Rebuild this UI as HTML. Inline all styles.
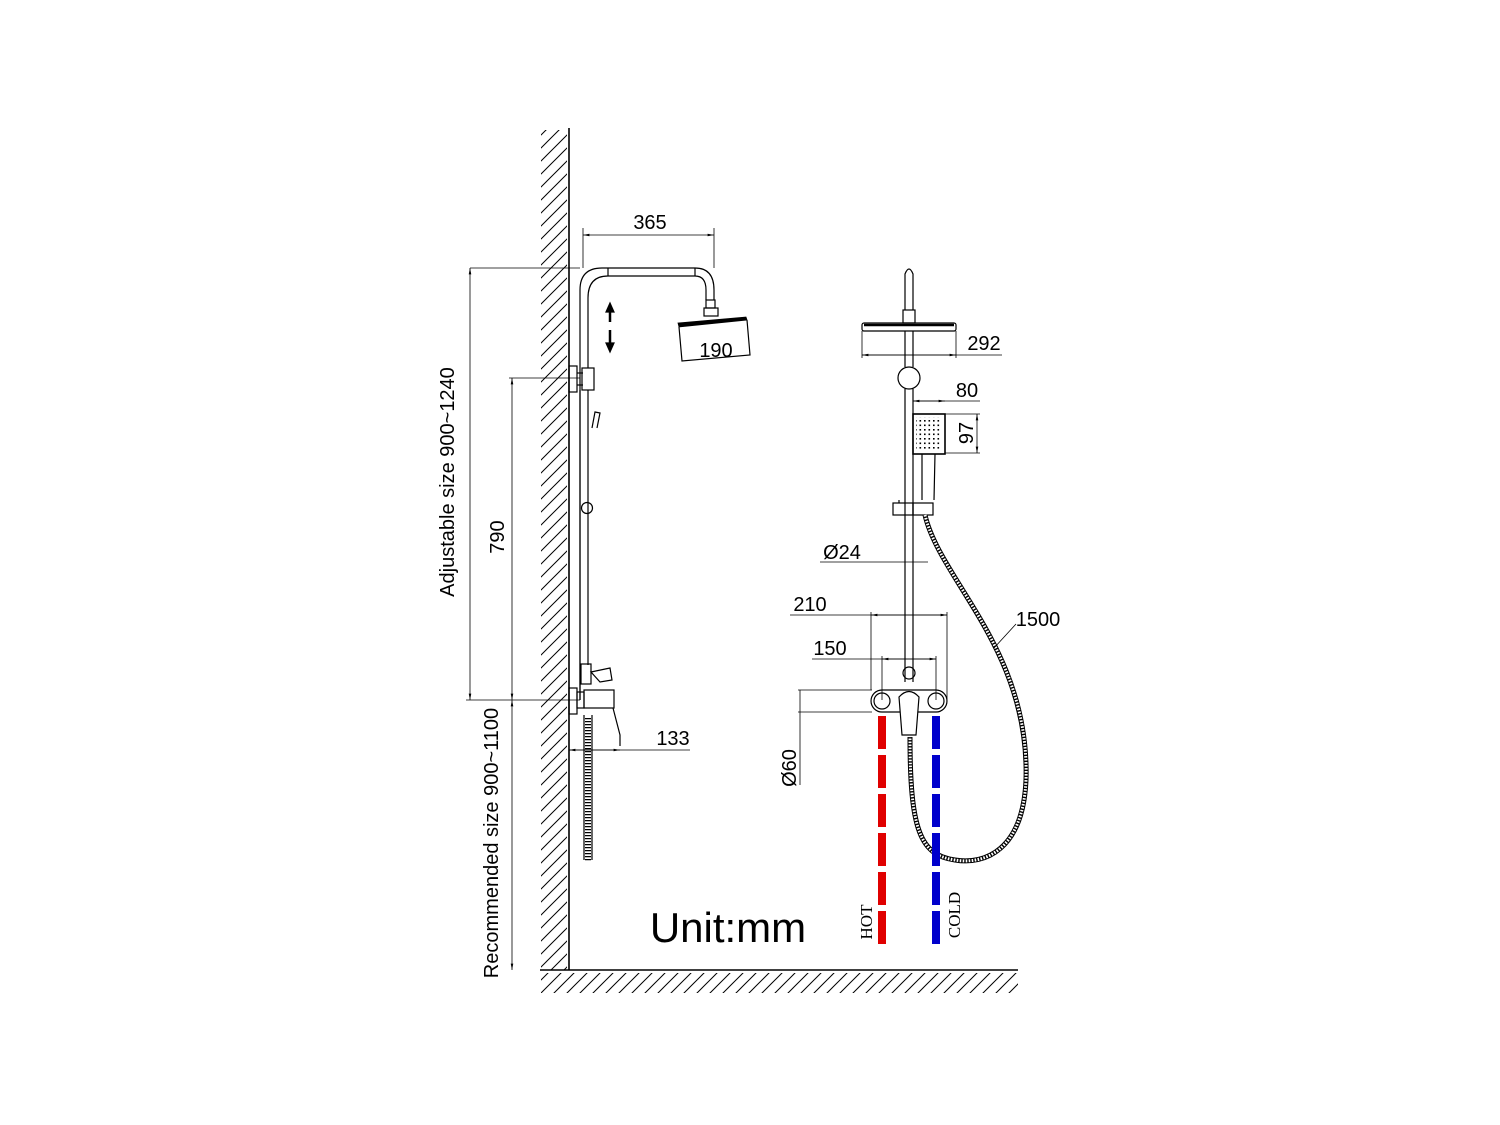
<!DOCTYPE html>
<html><head><meta charset="utf-8"><style>
html,body{margin:0;padding:0;background:#fff}
svg{display:block}
text{font-family:"Liberation Sans",sans-serif;fill:#000}
</style></head><body>
<svg width="1500" height="1125" viewBox="0 0 1500 1125" xmlns="http://www.w3.org/2000/svg">
<defs>
<pattern id="h" width="13" height="13" patternUnits="userSpaceOnUse">
<line x1="0" y1="13" x2="13" y2="0" stroke="#000" stroke-width="1"/>
<line x1="-3" y1="3" x2="3" y2="-3" stroke="#000" stroke-width="1"/>
<line x1="10" y1="16" x2="16" y2="10" stroke="#000" stroke-width="1"/>
</pattern>
<pattern id="dots" width="4.5" height="4.5" patternUnits="userSpaceOnUse"><rect x="1.5" y="1.5" width="1.6" height="1.6" fill="#000"/></pattern>
<clipPath id="cw"><rect x="541" y="130" width="26" height="840"/></clipPath>
<clipPath id="cf"><rect x="541" y="973" width="477" height="20"/></clipPath>
<marker id="ar" viewBox="0 0 10 10" refX="10" refY="5" markerWidth="8" markerHeight="8" orient="auto-start-reverse"><path d="M0,3 L10,5 L0,7" fill="#000"/></marker>
</defs>
<g stroke="#000" fill="none" stroke-width="1.2">
<rect x="541" y="130" width="28" height="840" fill="url(#h)" stroke="none" clip-path="url(#cw)"/>
<rect x="541" y="973" width="477" height="22" fill="url(#h)" stroke="none" clip-path="url(#cf)"/>
<line x1="569" y1="128" x2="569" y2="970" stroke-width="1.6"/>
<line x1="540" y1="970" x2="1018" y2="970" stroke-width="1.6"/>

<path d="M580,700 L580,290 Q580,268 602,268 L695,268 Q714,268 714,290 L714,300"/>
<path d="M588,368 L588,298 Q588,276 608,276 L695,276 Q706,276 706,290 L706,300"/>
<line x1="608" y1="268" x2="608" y2="276"/><line x1="695" y1="268" x2="695" y2="276"/>
<rect x="706" y="300" width="9" height="8"/>
<rect x="704" y="308" width="14" height="8"/>
<path d="M678,323 L746,317 L747,320 L679,327 Z" fill="#000" stroke-width="0.8"/>
<path d="M679,327 L682,361 L750,355 L747,320"/>
<rect x="569" y="366" width="8" height="26"/>
<line x1="577" y1="373" x2="583" y2="373"/><line x1="577" y1="385" x2="583" y2="385"/>
<rect x="582" y="368" width="12" height="22"/>
<line x1="580" y1="390" x2="580" y2="700"/><line x1="588" y1="390" x2="588" y2="665"/>
<path d="M592,428 L595,412 L600,413 L597,428"/>
<circle cx="587" cy="508" r="5.5"/>
<rect x="581" y="664" width="10" height="20"/>
<path d="M591,672 L610,668 L612,680 L600,682 Z"/>
<rect x="569" y="688" width="8" height="26"/>
<rect x="577" y="692" width="7" height="16"/>
<rect x="584" y="690" width="30" height="18"/>
<path d="M613,708 L620,735 L620,746"/>
<path d="M584,715 L584,860 M592,715 L592,860" />
<line x1="588" y1="718" x2="588" y2="862" stroke-width="6" stroke-dasharray="1.2 1.8"/>
<g stroke-width="2.5"><line x1="610" y1="312" x2="610" y2="322"/><line x1="610" y1="330" x2="610" y2="344"/></g>
<path d="M606,312 L610,303 L614,312 Z M606,343 L610,352 L614,343 Z" fill="#000"/>

<line x1="583" y1="228" x2="583" y2="268" stroke-width="0.8"/><line x1="714" y1="228" x2="714" y2="268" stroke-width="0.8"/>
<line x1="583" y1="235" x2="714" y2="235" stroke-width="0.8" marker-start="url(#ar)" marker-end="url(#ar)"/>
<line x1="470" y1="268" x2="580" y2="268" stroke-width="0.8"/>
<line x1="470" y1="268" x2="470" y2="700" stroke-width="0.8" marker-start="url(#ar)" marker-end="url(#ar)"/>
<line x1="466" y1="700" x2="580" y2="700" stroke-width="0.8"/>
<line x1="509" y1="378" x2="580" y2="378" stroke-width="0.8"/>
<line x1="512" y1="378" x2="512" y2="700" stroke-width="0.8" marker-start="url(#ar)" marker-end="url(#ar)"/>
<line x1="512" y1="700" x2="512" y2="970" stroke-width="0.8" marker-start="url(#ar)" marker-end="url(#ar)"/>
<line x1="569" y1="750" x2="690" y2="750" stroke-width="0.8"/>
<line x1="569" y1="750" x2="620" y2="750" stroke-width="0.8" marker-start="url(#ar)" marker-end="url(#ar)"/>

<path d="M905,310 L905,274 Q909,264 913,274 L913,310"/>
<rect x="903" y="310" width="12" height="13"/>
<rect x="862" y="323" width="94" height="8" rx="2"/>
<line x1="864" y1="325" x2="954" y2="325" stroke-width="2.5"/>
<line x1="905" y1="331" x2="905" y2="367"/><line x1="913" y1="331" x2="913" y2="367"/>
<circle cx="909" cy="378" r="11"/>
<line x1="905" y1="389" x2="905" y2="682"/><line x1="913" y1="389" x2="913" y2="682"/>
<rect x="913" y="414" width="32" height="40" stroke-width="1.6"/>
<rect x="916" y="417" width="26" height="34" fill="url(#dots)" stroke="none"/>
<path d="M922,454 L922,500 M935,454 L934,500"/>
<rect x="893" y="503" width="20" height="12"/><rect x="913" y="503" width="20" height="12"/>
<line x1="899" y1="500" x2="899" y2="503"/>
<path d="M925,515 C940,580 1030,650 1026,780 C1023,850 985,865 955,860 C920,855 910,830 910,737" stroke-width="5"/>
<path d="M925,515 C940,580 1030,650 1026,780 C1023,850 985,865 955,860 C920,855 910,830 910,737" stroke-width="3" stroke="#fff" stroke-dasharray="1.6 1.4"/>
<circle cx="909" cy="673" r="6"/>
<path d="M882,690 L936,690 A11,11 0 0 1 936,712 L882,712 A11,11 0 0 1 882,690 Z"/>
<circle cx="882" cy="701" r="8"/><circle cx="936" cy="701" r="8"/>
<path d="M899,697 Q909,686 919,697 L916,735 L902,735 Z" fill="#fff"/>
<line x1="882" y1="716" x2="882" y2="945" stroke="#e00000" stroke-width="8" stroke-dasharray="33 6"/>
<line x1="936" y1="716" x2="936" y2="945" stroke="#0000cc" stroke-width="8" stroke-dasharray="33 6"/>

<line x1="862" y1="331" x2="862" y2="358" stroke-width="0.8"/><line x1="956" y1="331" x2="956" y2="358" stroke-width="0.8"/>
<line x1="862" y1="355" x2="1002" y2="355" stroke-width="0.8"/>
<line x1="862" y1="355" x2="956" y2="355" stroke-width="0.8" marker-start="url(#ar)" marker-end="url(#ar)"/>
<line x1="913" y1="398" x2="913" y2="414" stroke-width="0.8"/>
<line x1="913" y1="401" x2="980" y2="401" stroke-width="0.8"/>
<line x1="913" y1="401" x2="945" y2="401" stroke-width="0.8" marker-start="url(#ar)" marker-end="url(#ar)"/>
<line x1="945" y1="414" x2="980" y2="414" stroke-width="0.8"/><line x1="945" y1="453" x2="980" y2="453" stroke-width="0.8"/>
<line x1="977" y1="414" x2="977" y2="453" stroke-width="0.8" marker-start="url(#ar)" marker-end="url(#ar)"/>
<line x1="820" y1="562" x2="928" y2="562" stroke-width="0.8"/>
<line x1="871" y1="612" x2="871" y2="690" stroke-width="0.8"/><line x1="947" y1="612" x2="947" y2="700" stroke-width="0.8"/>
<line x1="790" y1="615" x2="947" y2="615" stroke-width="0.8"/>
<line x1="871" y1="615" x2="947" y2="615" stroke-width="0.8" marker-start="url(#ar)" marker-end="url(#ar)"/>
<line x1="882" y1="656" x2="882" y2="700" stroke-width="0.8"/><line x1="936" y1="656" x2="936" y2="700" stroke-width="0.8"/>
<line x1="812" y1="659" x2="936" y2="659" stroke-width="0.8"/>
<line x1="882" y1="659" x2="936" y2="659" stroke-width="0.8" marker-start="url(#ar)" marker-end="url(#ar)"/>
<line x1="798" y1="690" x2="872" y2="690" stroke-width="0.8"/><line x1="798" y1="712" x2="872" y2="712" stroke-width="0.8"/>
<line x1="800" y1="690" x2="800" y2="785" stroke-width="0.8"/>
<line x1="1016" y1="624" x2="994" y2="648" stroke-width="0.8"/>
</g>

<g font-size="20">
<text x="650" y="229" text-anchor="middle">365</text>
<text x="716" y="357" text-anchor="middle">190</text>
<text x="447" y="482" text-anchor="middle" transform="rotate(-90 447 482)" dy="7">Adjustable size 900~1240</text>
<text x="497" y="537" text-anchor="middle" transform="rotate(-90 497 537)" dy="7">790</text>
<text x="491" y="843" text-anchor="middle" transform="rotate(-90 491 843)" dy="7">Recommended size 900~1100</text>
<text x="673" y="745" text-anchor="middle">133</text>
<text x="984" y="350" text-anchor="middle">292</text>
<text x="967" y="397" text-anchor="middle">80</text>
<text x="966" y="433" text-anchor="middle" transform="rotate(-90 966 433)" dy="7">97</text>
<text x="842" y="559" text-anchor="middle">Ø24</text>
<text x="810" y="611" text-anchor="middle">210</text>
<text x="830" y="655" text-anchor="middle">150</text>
<text x="789" y="768" text-anchor="middle" transform="rotate(-90 789 768)" dy="7">Ø60</text>
<text x="1038" y="626" text-anchor="middle">1500</text>
</g>
<text x="728" y="942" text-anchor="middle" font-size="42">Unit:mm</text>
<text x="866" y="922" text-anchor="middle" transform="rotate(-90 866 922)" dy="6" font-size="17" style="font-family:'Liberation Serif',serif">HOT</text>
<text x="954" y="915" text-anchor="middle" transform="rotate(-90 954 915)" dy="6" font-size="17" style="font-family:'Liberation Serif',serif">COLD</text>
</svg>
</body></html>
